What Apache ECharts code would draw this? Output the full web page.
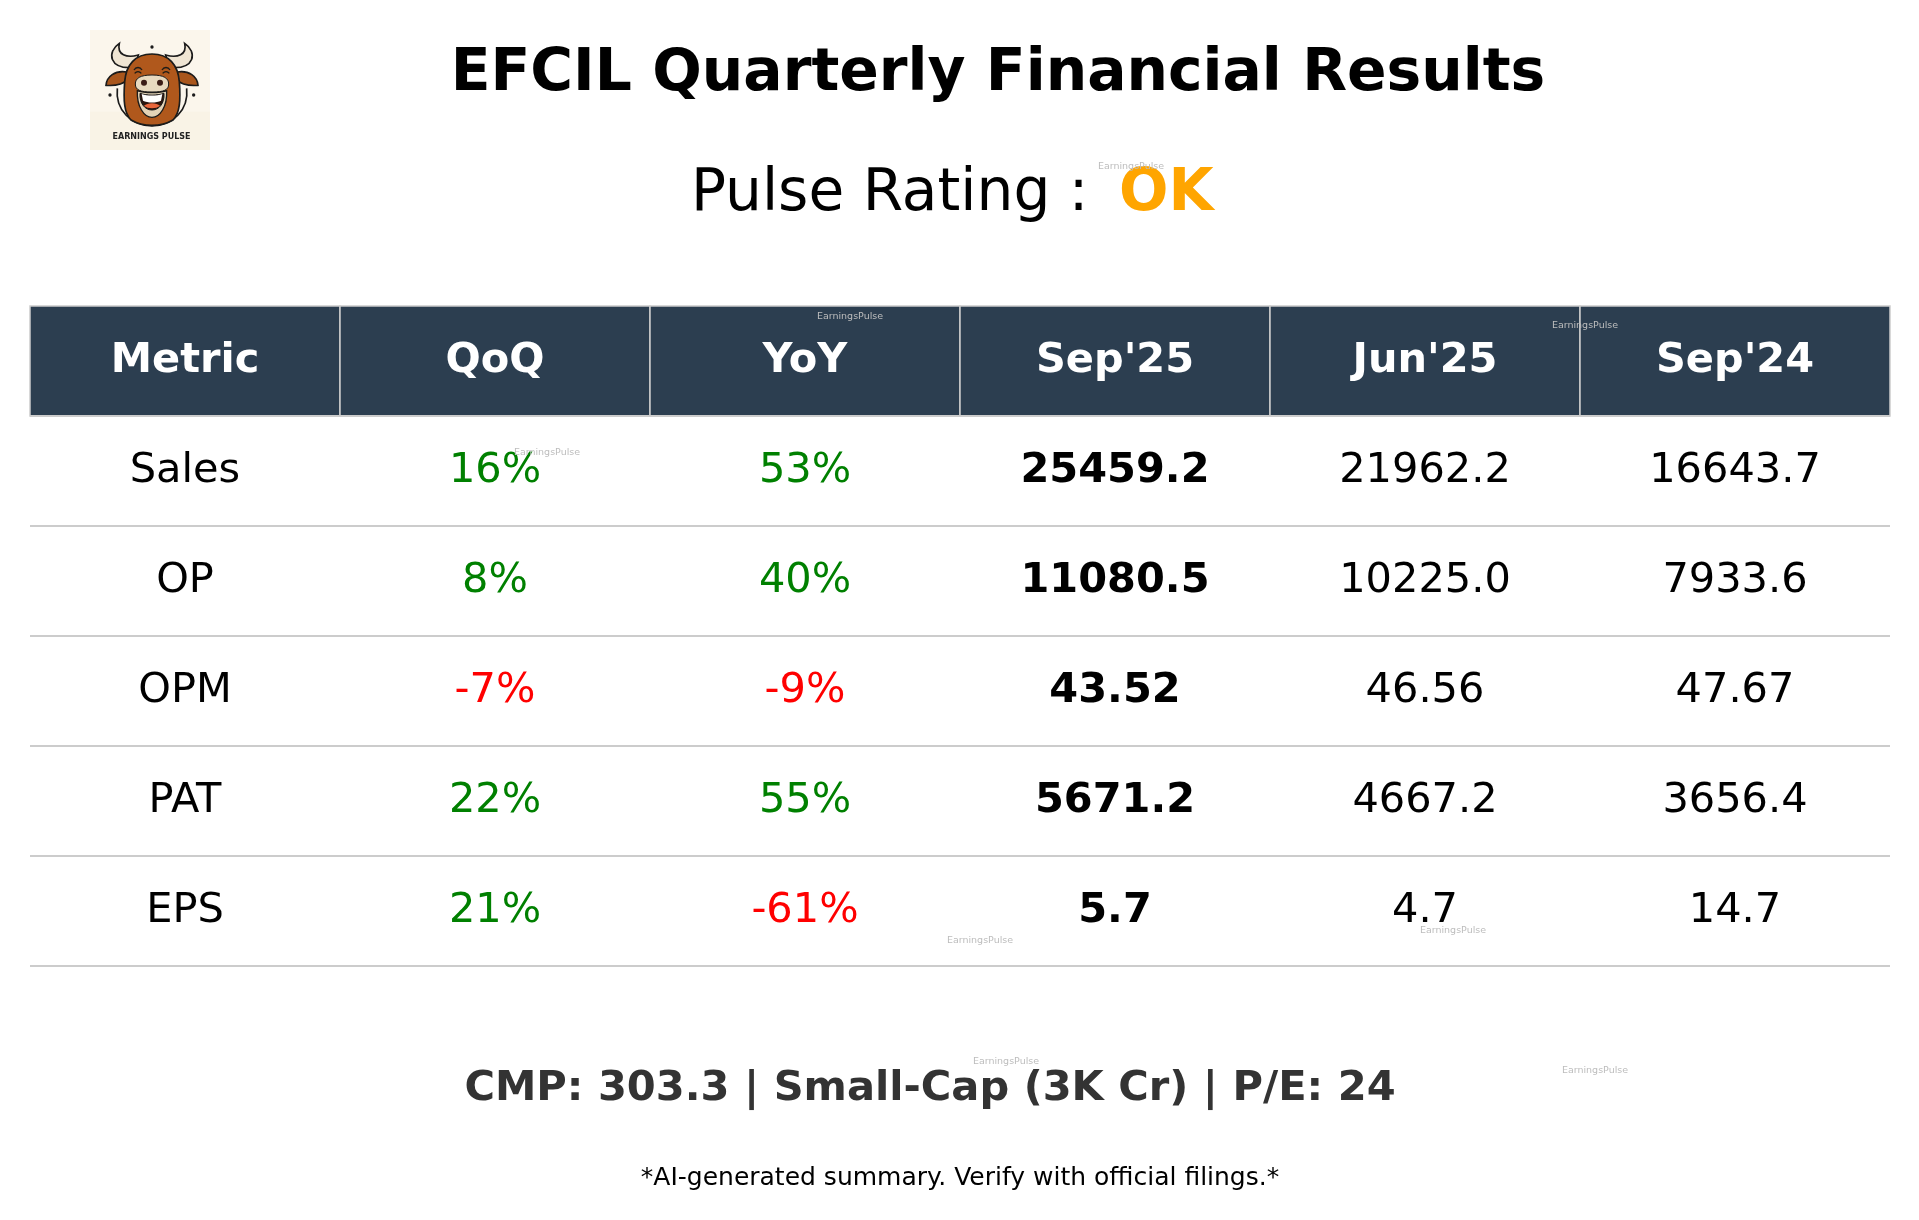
<!DOCTYPE html>
<html>
<head>
<meta charset="UTF-8">
<title>EFCIL Quarterly Financial Results</title>
<script src="https://cdn.jsdelivr.net/npm/echarts@6/dist/echarts.min.js"></script>
<style>
html, body { margin: 0; padding: 0; background: #fff; }
#chart { width: 1919px; height: 1220px; }
</style>
</head>
<body>
<div id="chart"></div>
<script>
// table contents
var headers = ['Metric', 'QoQ', 'YoY', "Sep'25", "Jun'25", "Sep'24"];
var metrics = ['Sales', 'OP', 'OPM', 'PAT', 'EPS'];
var qoq = ['16%', '8%', '-7%', '22%', '21%'];
var yoy = ['53%', '40%', '-9%', '55%', '-61%'];
var sep25 = ['25459.2', '11080.5', '43.52', '5671.2', '5.7'];
var jun25 = ['21962.2', '10225.0', '46.56', '4667.2', '4.7'];
var sep24 = ['16643.7', '7933.6', '47.67', '3656.4', '14.7'];
var columns = [metrics, qoq, yoy, sep25, jun25, sep24];
var rowNames = ['header'].concat(metrics);

var FONT = '"DejaVu Sans", sans-serif';
var NAVY = '#2c3e50';
var LINE = '#cccccc';

// one data item per cell: [col, row]
var cells = [];
for (var r = 0; r < rowNames.length; r++) {
	for (var c = 0; c < headers.length; c++) {
		cells.push([c, r]);
	}
}

function cellText(c, r) {
	return r === 0 ? headers[c] : columns[c][r - 1];
}

function cellColor(c, r) {
	if (r === 0) return '#ffffff';
	if (c === 1 || c === 2) return cellText(c, r).charAt(0) === '-' ? '#ff0000' : '#008000';
	return '#000000';
}

function renderCell(params, api) {
	var c = api.value(0), r = api.value(1);
	var pt = api.coord([c, r]);
	var size = api.size([1, 1]);
	var x0 = pt[0] - size[0] / 2, y0 = pt[1] - size[1] / 2;
	var kids = [];
	if (r === 0) {
		kids.push({
			type: 'rect',
			shape: { x: x0, y: y0, width: size[0], height: size[1] },
			style: { fill: NAVY, stroke: LINE, lineWidth: 1.5 }
		});
	}
	kids.push({
		type: 'line',
		shape: { x1: x0, y1: y0 + size[1], x2: x0 + size[0], y2: y0 + size[1] },
		style: { stroke: LINE, lineWidth: 2 }
	});
	kids.push({
		type: 'text',
		style: {
			text: cellText(c, r),
			x: pt[0],
			y: pt[1] + 0.5,
			align: 'center',
			verticalAlign: 'middle',
			fill: cellColor(c, r),
			font: ((r === 0 || c === 3) ? 'bold ' : '') + '41.5px ' + FONT
		}
	});
	return { type: 'group', children: kids };
}

function label(text, x, y, font, fill, align) {
	return {
		type: 'text',
		z: 10,
		style: { text: text, x: x, y: y, font: font, fill: fill, align: align || 'center', verticalAlign: 'middle' }
	};
}

function mark(x, y) {
	return label('EarningsPulse', x, y, '9.5px ' + FONT, '#bdbdbd');
}

// bull logo, 360 unit box
var logoSvg = '<svg xmlns="http://www.w3.org/2000/svg" width="360" height="360" viewBox="90 60 360 360">' +
	'<defs><filter id="b"><feGaussianBlur stdDeviation="1.2"/></filter></defs>' +
	'<rect x="90" y="60" width="360" height="360" fill="#fbf6ec"/>' +
	'<rect x="90" y="305" width="360" height="115" fill="#f9f3e6"/>' +
	'<g filter="url(#b)"><g stroke="#1a1a1a" stroke-width="5">' +
	'<path d="M178 100 C140 125 145 180 225 172 L235 135 C200 145 170 135 178 100 Z" fill="#efe5d3"/>' +
	'<path d="M374 100 C412 125 407 180 327 172 L317 135 C352 145 382 135 374 100 Z" fill="#efe5d3"/>' +
	'<path d="M200 186 C165 180 140 200 138 226 C165 228 190 222 205 208 Z" fill="#a9571c"/>' +
	'<path d="M352 186 C387 180 412 200 414 226 C387 228 362 222 347 208 Z" fill="#a9571c"/>' +
	'<path d="M172 235 C165 300 215 348 276 348 C337 348 387 300 380 235" fill="none"/>' +
	'<path d="M276 132 C225 132 198 165 194 215 C190 270 192 310 213 330 C235 343 255 346 276 346 C297 346 317 343 339 330 C360 310 362 270 358 215 C354 165 327 132 276 132 Z" fill="#b0581a"/>' +
	'<path d="M222 180 C228 170 240 170 246 180 M224 190 C230 183 238 183 244 190 M306 180 C312 170 324 170 330 180 M308 190 C314 183 322 183 328 190" fill="none" stroke-width="4"/>' +
	'<path d="M232 242 C255 250 297 250 320 242 C322 290 300 322 276 322 C252 322 230 290 232 242 Z" fill="#e3d3b6" stroke-width="4"/>' +
	'<path d="M276 195 C240 195 226 205 226 222 C226 240 240 246 276 246 C312 246 326 240 326 222 C326 205 312 195 276 195 Z" fill="#e8d9bf" stroke-width="3"/>' +
	'<path d="M240 250 C260 257 292 257 312 250 C314 282 296 300 276 300 C256 300 238 282 240 250 Z" fill="#2a120c" stroke-width="3"/>' +
	'</g>' +
	'<path d="M245 252 C262 258 290 258 307 252 L303 272 C290 279 262 279 249 272 Z" fill="#fff"/>' +
	'<path d="M252 287 C262 277 290 277 300 287 C290 297 262 297 252 287 Z" fill="#e8663a"/>' +
	'<circle cx="252" cy="218" r="9" fill="#3a1a12"/><circle cx="300" cy="218" r="9" fill="#3a1a12"/>' +
	'<circle cx="276" cy="111" r="5" fill="#1a1a1a"/><circle cx="150" cy="255" r="5" fill="#1a1a1a"/><circle cx="401" cy="255" r="5" fill="#1a1a1a"/>' +
	'</g></svg>';

var chart = echarts.init(document.getElementById('chart'), null, { renderer: 'canvas' });
chart.setOption({
	animation: false,
	backgroundColor: '#ffffff',
	grid: { left: 30, top: 306, width: 1860, height: 660 },
	xAxis: { type: 'category', data: headers, show: false },
	yAxis: { type: 'category', data: rowNames, inverse: true, show: false },
	series: [{
		type: 'custom',
		coordinateSystem: 'cartesian2d',
		renderItem: renderCell,
		data: cells,
		silent: true
	}],
	graphic: [
		{
			type: 'image', z: 5, x: 90, y: 30,
			style: { image: 'data:image/svg+xml;charset=utf-8,' + encodeURIComponent(logoSvg), width: 120, height: 120 }
		},
		label('EARNINGS PULSE', 151.5, 137, 'bold 8px "DejaVu Sans", sans-serif', '#222222'),
		label('EFCIL Quarterly Financial Results', 998, 75, 'bold 58.3px ' + FONT, '#000000'),
		label('Pulse Rating :', 691, 195, '58.2px ' + FONT, '#000000', 'left'),
		label('OK', 1119, 195, 'bold 58.2px ' + FONT, '#ffa500', 'left'),
		label('CMP: 303.3 | Small-Cap (3K Cr) | P/E: 24', 930, 1089, 'bold 41.6px ' + FONT, '#333333'),
		label('*AI-generated summary. Verify with official filings.*', 960, 1178, '25px ' + FONT, '#000000'),
		mark(1131, 167),
		mark(850, 317),
		mark(1585, 326),
		mark(547, 453),
		mark(980, 941),
		mark(1453, 931),
		mark(1006, 1062),
		mark(1595, 1071)
	]
});
</script>
</body>
</html>
